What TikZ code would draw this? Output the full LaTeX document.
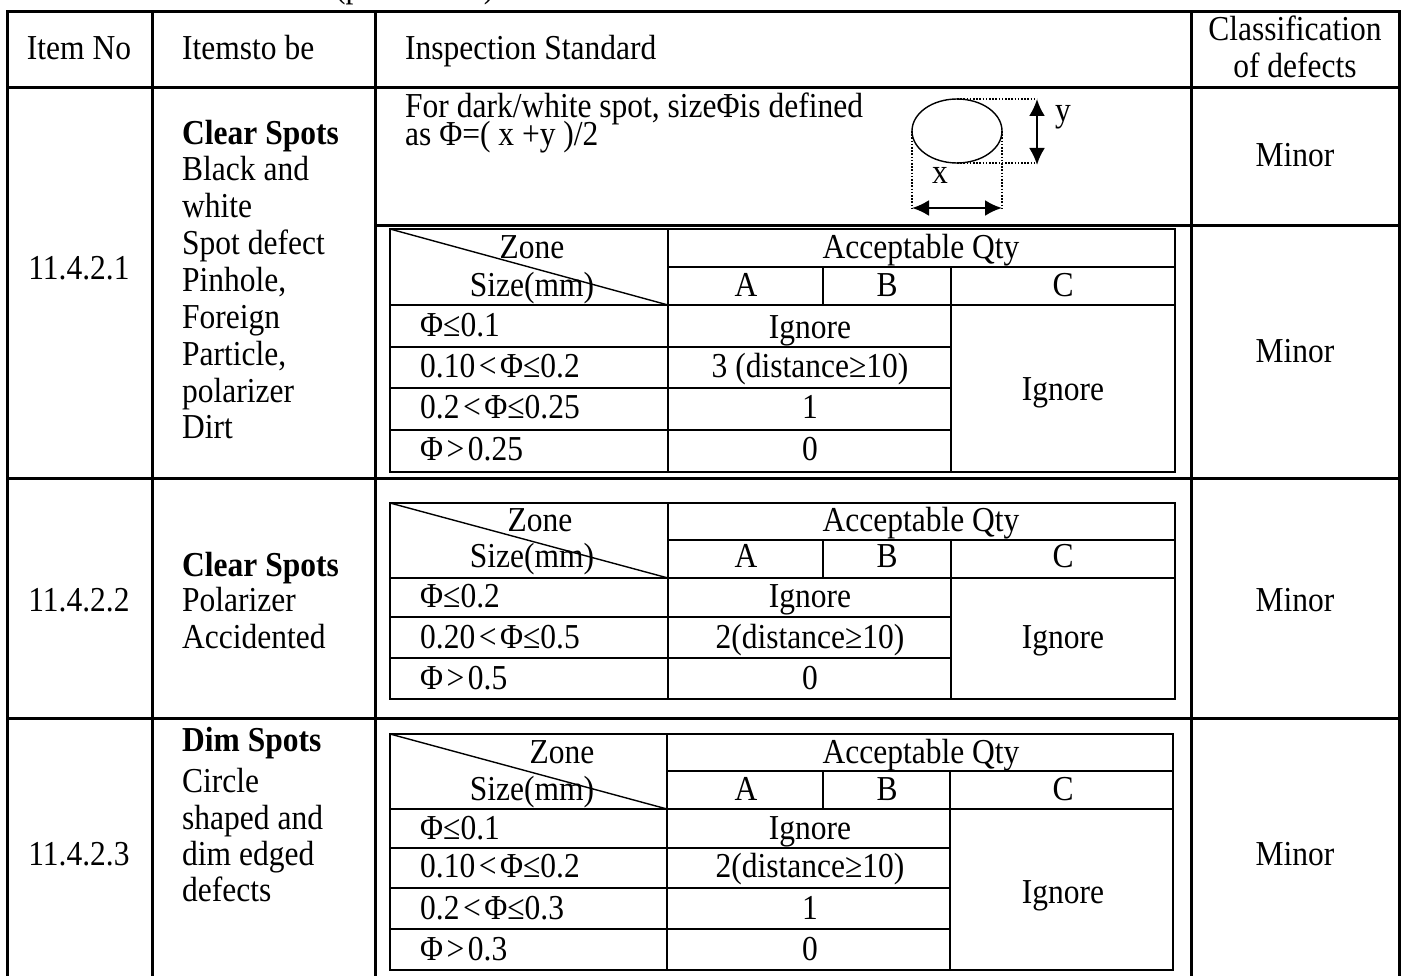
\documentclass[tikz,border=0pt]{standalone}
\usepackage{fontspec}
\setmainfont{Liberation Serif}[FakeStretch=0.9]
\usetikzlibrary{arrows.meta}
\newcommand{\fsz}{\fontsize{35}{40}\selectfont}
\newcommand{\deffont}{\fontsize{35}{28}\selectfont\lineskiplimit=-60pt\relax\lineskip=0pt\relax}
\newcommand{\lt}{\hspace{0.1em}<\hspace{0.1em}}
\newcommand{\gtx}{\hspace{0.1em}>\hspace{0.1em}}
\begin{document}
\begin{tikzpicture}[x=1pt,y=-1pt,
  outer/.style={line width=3pt, line cap=rect},
  inner/.style={line width=2.4pt, line cap=rect},
  thinl/.style={line width=1.4pt},
  dotl/.style={line width=1.3pt, dash pattern=on 1.6pt off 1.6pt},
  L/.style={anchor=base west, inner sep=0pt, font=\fsz},
  C/.style={anchor=base, inner sep=0pt, font=\fsz},
  B/.style={anchor=base west, inner sep=0pt, font=\fsz\bfseries},
  dimarrow/.style={line width=2.4pt, {Latex[length=17pt,width=16pt]}-{Latex[length=17pt,width=16pt]}}
]
\useasboundingbox (0,0) rectangle (1403,976);
\clip (0,0) rectangle (1403,976);
\node[L] (frag) at (335,-2) {(parameters)};

% ---------- outer grid ----------
\draw[outer] (7,12) -- (1399,12);
\draw[outer] (7,88) -- (1399,88);
\draw[outer] (375,226) -- (1399,226);
\draw[outer] (7,478) -- (1399,478);
\draw[outer] (7,718) -- (1399,718);
\foreach \x in {7,152,375,1191,1399} \draw[outer] (\x,12) -- (\x,980);

% ---------- header ----------
\node[C] (hitem) at (79,60) {Item No};
\node[L] (hitems) at (182,60) {Itemsto be};
\node[L] (hinsp) at (405,60) {Inspection Standard};
\node[C] (hcls1) at (1295,41) {Classification};
\node[C] (hcls2) at (1295,78) {of defects};

% ---------- row 1 ----------
\node[C] (n1) at (79,280) {11.4.2.1};
\node[B] (r1a) at (182,145) {Clear Spots};
\node[L] (r1b) at (182,181) {Black and};
\node[L] (r1c) at (182,218) {white};
\node[L] (r1d) at (182,255) {Spot defect};
\node[L] (r1e) at (182,292) {Pinhole,};
\node[L] (r1f) at (182,328) {Foreign};
\node[L] (r1g) at (182,365) {Particle,};
\node[L] (r1h) at (182,402) {polarizer};
\node[L] (r1i) at (182,438) {Dirt};
\node[anchor=north west, inner sep=0pt, font=\deffont, align=left] (def) at (405,93)
  {For dark/white spot, sizeΦis defined\\as Φ=( x +y )/2};
\node[C] (m1a) at (1295,167) {Minor};
\node[C] (m1b) at (1295,362) {Minor};

% ellipse sketch
\draw[thinl] (957,131) ellipse [x radius=45, y radius=32];
\draw[dotl] (957,99) -- (1037,99);
\draw[dotl] (957,163) -- (1037,163);
\draw[dotl] (912,131) -- (912,208);
\draw[dotl] (1002,131) -- (1002,208);
\coordinate (ya) at (1037,99);
\coordinate (yb) at (1037,165);
\coordinate (xa) at (912,208);
\coordinate (xb) at (1002,208);
\draw[dimarrow] (ya) -- (yb);
\draw[dimarrow] (xa) -- (xb);
\node[C] (ylab) at (1063,122) {y};
\node[C] (xlab) at (940,184) {x};

% inner table 1
\draw[inner] (390,229) rectangle (1175,472);
\draw[inner] (668,229) -- (668,472);
\draw[inner] (668,267) -- (1175,267);
\draw[inner] (390,305) -- (1175,305);
\draw[inner] (823,267) -- (823,305);
\draw[inner] (951,267) -- (951,472);
\foreach \y in {347,388,430} \draw[inner] (390,\y) -- (951,\y);
\draw[thinl] (390,229) -- (668,305);
\node[C] (t1zone) at (532,259) {Zone};
\node[C] (t1size) at (532,297) {Size(mm)};
\node[C] (t1acc) at (921,259) {Acceptable Qty};
\node[C] (t1A) at (746,297) {A};
\node[C] (t1B) at (887,297) {B};
\node[C] (t1C) at (1063,297) {C};
\node[L] (t1r1) at (420,337) {Φ≤0.1};
\node[L] (t1r2) at (420,377) {0.10\lt Φ≤0.2};
\node[L] (t1r3) at (420,418) {0.2\lt Φ≤0.25};
\node[L] (t1r4) at (420,460) {Φ\gtx 0.25};
\node[C] (t1v1) at (810,338) {Ignore};
\node[C] (t1v2) at (810,377) {3 (distance≥10)};
\node[C] (t1v3) at (810,418) {1};
\node[C] (t1v4) at (810,460) {0};
\node[C] (t1c) at (1063,400) {Ignore};

% ---------- row 2 ----------
\node[C] (n2) at (79,611) {11.4.2.2};
\node[B] (r2a) at (182,576) {Clear Spots};
\node[L] (r2b) at (182,611) {Polarizer};
\node[L] (r2c) at (182,648) {Accidented};
\node[C] (m2) at (1295,611) {Minor};

\draw[inner] (390,503) rectangle (1175,699);
\draw[inner] (668,503) -- (668,699);
\draw[inner] (668,540) -- (1175,540);
\draw[inner] (390,578) -- (1175,578);
\draw[inner] (823,540) -- (823,578);
\draw[inner] (951,540) -- (951,699);
\foreach \y in {617,658} \draw[inner] (390,\y) -- (951,\y);
\draw[thinl] (390,503) -- (668,578);
\node[C] (t2zone) at (540,531) {Zone};
\node[C] (t2size) at (532,567) {Size(mm)};
\node[C] (t2acc) at (921,531) {Acceptable Qty};
\node[C] (t2A) at (746,567) {A};
\node[C] (t2B) at (887,567) {B};
\node[C] (t2C) at (1063,567) {C};
\node[L] (t2r1) at (420,607) {Φ≤0.2};
\node[L] (t2r2) at (420,648) {0.20\lt Φ≤0.5};
\node[L] (t2r3) at (420,689) {Φ\gtx 0.5};
\node[C] (t2v1) at (810,607) {Ignore};
\node[C] (t2v2) at (810,648) {2(distance≥10)};
\node[C] (t2v3) at (810,689) {0};
\node[C] (t2c) at (1063,648) {Ignore};

% ---------- row 3 ----------
\node[C] (n3) at (79,865) {11.4.2.3};
\node[B] (r3a) at (182,751) {Dim Spots};
\node[L] (r3b) at (182,792) {Circle};
\node[L] (r3c) at (182,829) {shaped and};
\node[L] (r3d) at (182,865) {dim edged};
\node[L] (r3e) at (182,901) {defects};
\node[C] (m3) at (1295,865) {Minor};

\draw[inner] (390,734) rectangle (1173,970);
\draw[inner] (667,734) -- (667,970);
\draw[inner] (667,771) -- (1173,771);
\draw[inner] (390,809) -- (1173,809);
\draw[inner] (823,771) -- (823,809);
\draw[inner] (950,771) -- (950,970);
\foreach \y in {848,888,929} \draw[inner] (390,\y) -- (950,\y);
\draw[thinl] (390,734) -- (667,809);
\node[C] (t3zone) at (562,763) {Zone};
\node[C] (t3size) at (532,800) {Size(mm)};
\node[C] (t3acc) at (921,763) {Acceptable Qty};
\node[C] (t3A) at (746,800) {A};
\node[C] (t3B) at (887,800) {B};
\node[C] (t3C) at (1063,800) {C};
\node[L] (t3r1) at (420,839) {Φ≤0.1};
\node[L] (t3r2) at (420,877) {0.10\lt Φ≤0.2};
\node[L] (t3r3) at (420,919) {0.2\lt Φ≤0.3};
\node[L] (t3r4) at (420,960) {Φ\gtx 0.3};
\node[C] (t3v1) at (810,839) {Ignore};
\node[C] (t3v2) at (810,877) {2(distance≥10)};
\node[C] (t3v3) at (810,919) {1};
\node[C] (t3v4) at (810,960) {0};
\node[C] (t3c) at (1063,903) {Ignore};
\end{tikzpicture}
\end{document}
